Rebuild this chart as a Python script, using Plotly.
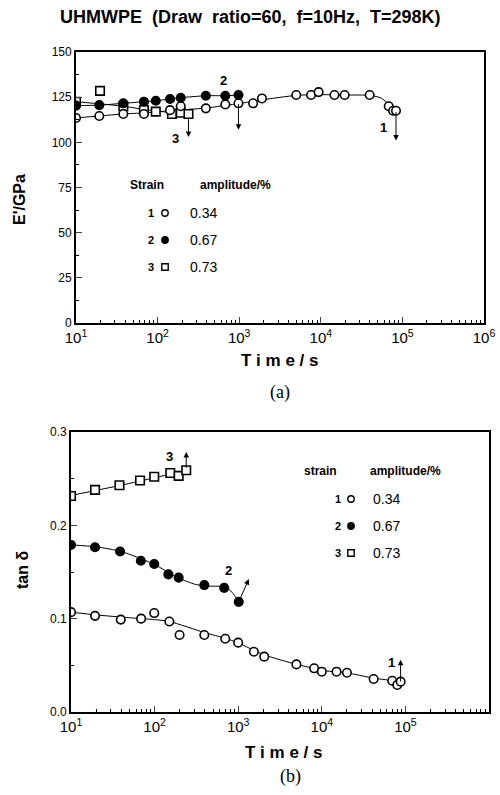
import numpy as np
import plotly.graph_objects as go

# ---------------- data (a) : E' vs time ----------------
a1_t = [10, 19.3, 38, 68, 142, 192, 390, 676, 980, 1480, 1900, 5000, 7600, 9400, 14700, 19600, 39700, 68000, 77000, 83500]
a1_v = [113.5, 114.6, 115.7, 115.7, 117.8, 120.0, 118.8, 121.0, 121.6, 121.6, 124.3, 126.2, 126.2, 127.8, 126.2, 126.2, 126.2, 120.0, 117.5, 117.5]
a2_t = [10, 19.3, 38, 68, 95, 142, 192, 390, 676, 980]
a2_v = [120.3, 120.6, 121.6, 122.5, 123.0, 124.0, 124.7, 125.8, 125.8, 126.2]
a3_t = [10, 19.7, 38, 68, 95, 150, 192, 239]
a3_v = [122.5, 128.5, 120.0, 117.9, 117.0, 115.7, 116.4, 115.7]

fa1_t = [10, 19.3, 38, 68, 142, 390, 1000, 1900, 5000, 10000, 20000, 40000, 55000, 70000, 83500]
fa1_v = [113.5, 114.6, 115.7, 116.3, 117.5, 119.0, 121.5, 123.5, 126.0, 126.4, 126.2, 126.0, 124.5, 120.5, 117.5]
fa2_t = a2_t
fa2_v = a2_v
fa3_t = [10, 38, 68, 142, 239]
fa3_v = [122.5, 120.0, 118.2, 116.5, 115.7]

# ---------------- data (b) : tan delta vs time ----------------
b1_t = [10, 19.4, 39.4, 69, 99, 150, 199, 393, 700, 1000, 1540, 2050, 4970, 8100, 10000, 15000, 20000, 41700, 69500, 80000, 87700]
b1_v = [0.107, 0.103, 0.099, 0.100, 0.106, 0.097, 0.0825, 0.0825, 0.0785, 0.0743, 0.0646, 0.0593, 0.051, 0.0468, 0.0432, 0.0432, 0.0421, 0.0354, 0.0335, 0.029, 0.0325]
b2_t = [10, 19.4, 38.7, 68.5, 99, 146, 194, 393, 680, 1015]
b2_v = [0.179, 0.1765, 0.172, 0.162, 0.1586, 0.1475, 0.144, 0.136, 0.133, 0.118]
b3_t = [10, 19.4, 38, 67, 99, 154, 194, 239]
b3_v = [0.2314, 0.238, 0.243, 0.248, 0.252, 0.256, 0.253, 0.259]

fb1_t = [10, 20, 50, 100, 150, 400, 700, 1000, 2000, 5000, 8000, 10000, 20000, 40000, 70000, 87700]
fb1_v = [0.107, 0.104, 0.101, 0.099, 0.097, 0.085, 0.079, 0.074, 0.0615, 0.051, 0.0468, 0.0445, 0.042, 0.0365, 0.0335, 0.031]
fb2_t = [10, 20, 40, 70, 100, 150, 200, 300, 400, 700, 850, 1015]
fb2_v = [0.179, 0.177, 0.172, 0.164, 0.158, 0.149, 0.143, 0.137, 0.135, 0.134, 0.128, 0.118]
fb3_t = [10, 40, 100, 239]
fb3_v = [0.232, 0.243, 0.251, 0.259]

x_tickvals = [10, 100, 1000, 10000, 100000, 1000000]
x_ticktext = ["10<sup>1</sup>", "10<sup>2</sup>", "10<sup>3</sup>", "10<sup>4</sup>", "10<sup>5</sup>", "10<sup>6</sup>"]
legend_labels = ["0.34", "0.67", "0.73"]

W, H = 500, 795
def px(x):
    return x / W
def py(y):
    return 1 - y / H

FONT = "Liberation Sans, Arial, sans-serif"
fig = go.Figure()

def fit(t, v, xa, ya):
    fig.add_trace(go.Scatter(x=t, y=v, mode="lines", line=dict(color="black", width=1, shape="spline", smoothing=0.6),
                             xaxis=xa, yaxis=ya, showlegend=False, hoverinfo="skip"))

def pts(t, v, xa, ya, symbol, fill):
    fig.add_trace(go.Scatter(x=t, y=v, mode="markers", xaxis=xa, yaxis=ya, showlegend=False,
                             marker=dict(symbol=symbol, size=8.5, color=fill, line=dict(color="black", width=1.6))))

fit(fa1_t, fa1_v, "x", "y"); fit(fa2_t, fa2_v, "x", "y"); fit(fa3_t, fa3_v, "x", "y")
pts(a3_t, a3_v, "x", "y", "square", "white")
pts(a1_t, a1_v, "x", "y", "circle", "white")
pts(a2_t, a2_v, "x", "y", "circle", "black")

fit(fb1_t, fb1_v, "x2", "y2"); fit(fb2_t, fb2_v, "x2", "y2"); fit(fb3_t, fb3_v, "x2", "y2")
pts(b3_t, b3_v, "x2", "y2", "square", "white")
pts(b1_t, b1_v, "x2", "y2", "circle", "white")
pts(b2_t, b2_v, "x2", "y2", "circle", "black")

common_x = dict(type="log", range=[1, 6], tickvals=x_tickvals, ticktext=x_ticktext, ticks="inside", ticklen=6,
                tickwidth=1.2, showline=True, linecolor="black", linewidth=1.8, mirror=True, showgrid=False,
                zeroline=False, automargin=False, tickfont=dict(family=FONT, size=15, color="black"),
                minor=dict(ticks="inside", ticklen=3, tickcolor="black", dtick="D1", showgrid=False))
common_y = dict(ticks="inside", ticklen=6, tickwidth=1.2, showline=True, linecolor="black", linewidth=1.8,
                mirror=True, showgrid=False, zeroline=False, automargin=False,
                tickfont=dict(family=FONT, size=12, color="black"))

fig.update_layout(
    width=W, height=H, margin=dict(l=0, r=0, t=0, b=0),
    paper_bgcolor="white", plot_bgcolor="white", showlegend=False,
    xaxis=dict(domain=[px(76), px(484)], anchor="y", **common_x),
    yaxis=dict(domain=[py(323), py(52)], anchor="x", range=[0, 150], dtick=25,
               minor=dict(ticks="inside", ticklen=3, dtick=12.5, tickcolor="black"), **common_y),
    xaxis2=dict(domain=[px(71), px(489)], anchor="y2", **common_x),
    yaxis2=dict(domain=[py(712), py(432)], anchor="x2", range=[0, 0.3], dtick=0.1, tickformat=".1f",
                minor=dict(ticks="inside", ticklen=3, dtick=0.05, tickcolor="black"), **common_y),
)

ann = []
def text(x, y, s, size=13, bold=False, family=FONT, angle=0):
    ann.append(dict(x=px(x), y=py(y), xref="paper", yref="paper", text=("<b>%s</b>" % s) if bold else s,
                    showarrow=False, font=dict(family=family, size=size, color="black"), textangle=angle,
                    xanchor="center", yanchor="middle"))

def arrow(xa, ya, t0, v0, t1, v1):
    ann.append(dict(x=np.log10(t1), y=v1, ax=np.log10(t0), ay=v0, xref=xa, yref=ya, axref=xa, ayref=ya,
                    showarrow=True, arrowhead=2, arrowsize=1.1, arrowwidth=1, arrowcolor="black", text=""))

def dlabel(xa, ya, t, v, s):
    ann.append(dict(x=np.log10(t), y=v, xref=xa, yref=ya, text="<b>%s</b>" % s, showarrow=False,
                    font=dict(family=FONT, size=13, color="black")))

# titles
text(250, 17, "UHMWPE&nbsp;&nbsp;(Draw&nbsp;&nbsp;ratio=60,&nbsp;&nbsp;f=10Hz,&nbsp;&nbsp;T=298K)", size=18, bold=True)
text(20, 200, "E'/GPa", size=16, bold=True, angle=-90)
text(22, 570, "tan δ", size=16, bold=True, angle=-90)
text(279, 360, "T i m e / s", size=17, bold=True)
text(283, 752, "T i m e / s", size=17, bold=True)
text(280, 392, "(a)", size=18, family="Liberation Serif, Times New Roman, serif")
text(290, 776, "(b)", size=18, family="Liberation Serif, Times New Roman, serif")

# legend (a)
text(147, 185, "Strain", size=12, bold=True)
text(235, 185, "amplitude/%", size=12, bold=True)
# legend (b)
text(320, 471, "strain", size=12, bold=True)
text(405, 471, "amplitude/%", size=12, bold=True)

shapes = []
def mark(x, y, kind):
    r = 3.2
    if kind == "sq":
        shapes.append(dict(type="rect", xref="paper", yref="paper", x0=px(x - r), x1=px(x + r), y0=py(y + r), y1=py(y - r),
                           line=dict(color="black", width=1.4), fillcolor="white"))
    else:
        shapes.append(dict(type="circle", xref="paper", yref="paper", x0=px(x - r), x1=px(x + r), y0=py(y + r), y1=py(y - r),
                           line=dict(color="black", width=1.4), fillcolor="black" if kind == "fc" else "white"))

for i, (y, kind) in enumerate([(213, "oc"), (240, "fc"), (267, "sq")]):
    text(151, y, str(i + 1), size=11, bold=True)
    mark(165, y, kind)
    text(203, y, legend_labels[i], size=14)
for i, (y, kind) in enumerate([(499, "oc"), (526, "fc"), (553, "sq")]):
    text(338, y, str(i + 1), size=11, bold=True)
    mark(351, y, kind)
    text(386, y, legend_labels[i], size=14)

# arrows and curve labels (a)
arrow("x", "y", 83500, 117.5, 83500, 101)
dlabel("x", "y", 58500, 108, "1")
arrow("x", "y", 980, 122, 980, 107)
dlabel("x", "y", 635, 134, "2")
arrow("x", "y", 239, 114.5, 239, 103)
dlabel("x", "y", 164, 102.4, "3")
# arrows and curve labels (b)
arrow("x2", "y2", 87700, 0.031, 87700, 0.056)
dlabel("x2", "y2", 68000, 0.0528, "1")
arrow("x2", "y2", 1015, 0.118, 1340, 0.1425)
dlabel("x2", "y2", 757, 0.1514, "2")
arrow("x2", "y2", 239, 0.26, 239, 0.2786)
dlabel("x2", "y2", 151, 0.2737, "3")

fig.update_layout(annotations=ann, shapes=shapes)
fig.write_html("out.html", config={"displayModeBar": False},
               post_script="document.body.style.margin='0';document.body.style.overflow='hidden';")
